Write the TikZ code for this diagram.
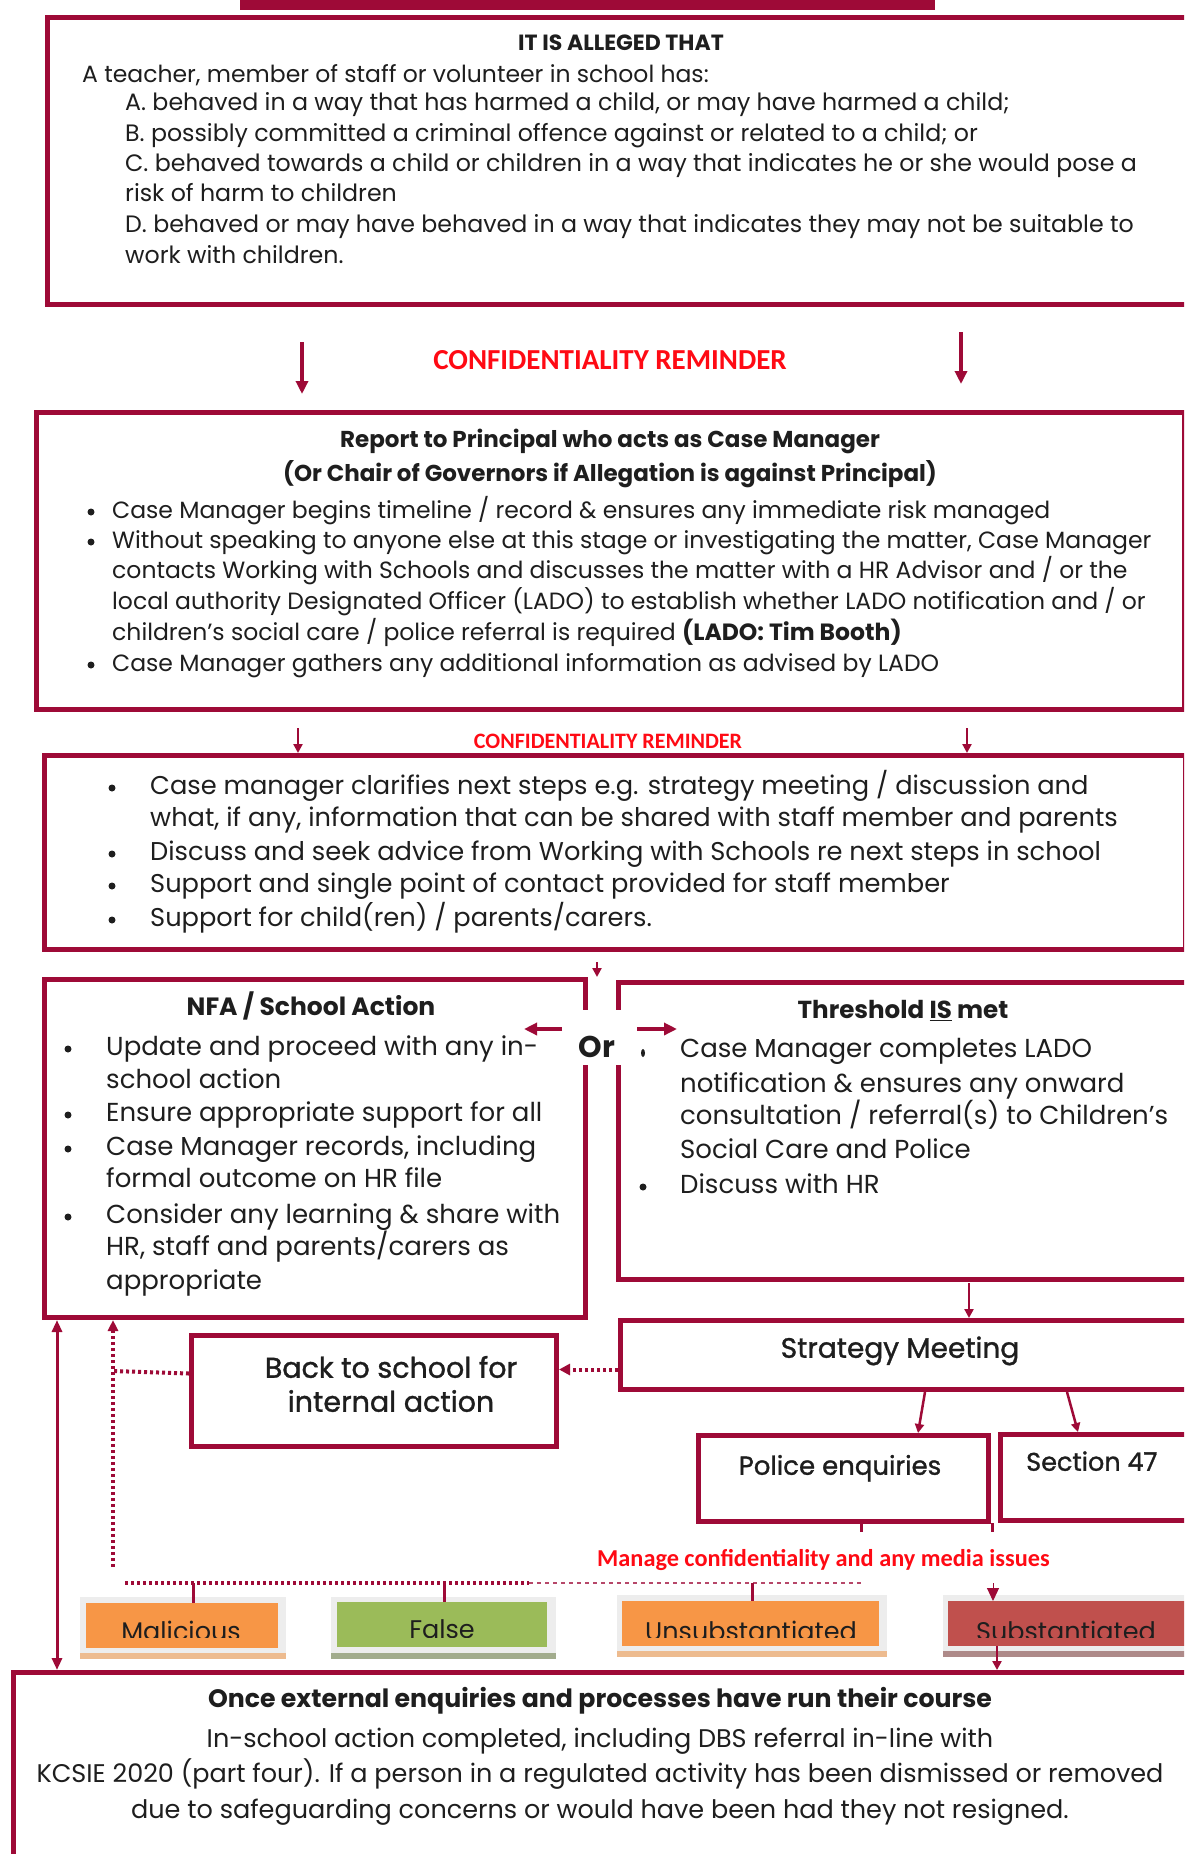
\documentclass[tikz,border=0pt]{standalone}
\usepackage{fontspec}
\setmainfont{Poppins}
\newfontfamily\redf{Carlito}
\newfontfamily\medf{Poppins}[FakeBold=1.2]
\usetikzlibrary{arrows.meta}
\definecolor{mar}{RGB}{158,10,55}
\definecolor{redtxt}{RGB}{255,10,20}
\definecolor{orbox}{RGB}{247,150,70}
\definecolor{grbox}{RGB}{155,187,89}
\definecolor{rdbox}{RGB}{192,80,77}
\definecolor{txt}{RGB}{30,30,30}
\newcommand\fsz[1]{\fontsize{#1}{#1}\selectfont}
\begin{document}
\begin{tikzpicture}[x=1pt,y=-1pt,
  box/.style={draw=mar, line width=5pt, inner sep=0, anchor=north west},
  t/.style={anchor=mid west, inner sep=0, text=txt, yshift=-5pt},
  tc/.style={anchor=mid, inner sep=0, text=txt, yshift=-5pt},
  bul/.style={circle, fill=txt, minimum size=7pt, inner sep=0, yshift=-1pt},
  arr/.style={draw=mar, line width=3.5pt, -{Triangle[length=13pt,width=12pt]}},
  sarr/.style={draw=mar, line width=2.5pt, -{Triangle[length=9pt,width=9pt]}},
  dots/.style={draw=mar, line width=4pt, dash pattern=on 3pt off 3pt},
  ldots/.style={draw=mar!75, line width=2pt, dash pattern=on 4pt off 4pt},
  tick/.style={draw=mar, line width=3pt},
  cbox/.style={inner sep=0, anchor=north west},
  ctext/.style={anchor=base, inner sep=0, text=txt, font=\fsz{25.5}},
  f1/.style={font=\fsz{23.7}},
  f2/.style={font=\fsz{23.5}},
  f3/.style={font=\fsz{25.7}},
  f4/.style={font=\fsz{26}},
  f5/.style={font=\fsz{25.5}},
]
\useasboundingbox (0,0) rectangle (1184,1854);
\clip (0,0) rectangle (1184,1854);
\fill[white] (0,0) rectangle (1184,1854);

% banner
\fill[mar] (240,0) rectangle (935,10);

% ---------- box 1
\node[box, minimum width=1200pt, minimum height=287pt] (b1) at (45,15) {};
\node[tc, font=\bfseries\fsz{22}] (t1h) at (621,43) {IT IS ALLEGED THAT};
\node[t, font=\fsz{23.5}] (t1i) at (82,75) {A teacher, member of staff or volunteer in school has:};
\node[t, f1] (t1a) at (125,103) {A. behaved in a way that has harmed a child, or may have harmed a child;};
\node[t, f1] (t1b) at (125,134) {B. possibly committed a criminal offence against or related to a child; or};
\node[t, f1] (t1c) at (125,164) {C. behaved towards a child or children in a way that indicates he or she would pose a};
\node[t, f1] (t1d) at (125,194) {risk of harm to children};
\node[t, f1] (t1e) at (125,225) {D. behaved or may have behaved in a way that indicates they may not be suitable to};
\node[t, f1] (t1f) at (125,256) {work with children.};

\node[tc, text=redtxt, font=\redf\bfseries\fsz{29}] (cr1) at (610,362) {CONFIDENTIALITY REMINDER};

% ---------- box 2
\node[box, minimum width=1148pt, minimum height=297pt] (b2) at (34,410) {};
\node[tc, font=\bfseries\fsz{23}] (t2h1) at (610,440) {Report to Principal who acts as Case Manager};
\node[tc, font=\bfseries\fsz{23}] (t2h2) at (610,474) {(Or Chair of Governors if Allegation is against Principal)};
\node[bul] (b2a) at (91,511) {};
\node[bul] (b2b) at (91,541) {};
\node[bul] (b2c) at (91,664) {};
\node[t, f2] (t2a) at (112,511) {Case Manager begins timeline / record \& ensures any immediate risk managed};
\node[t, f2] (t2b) at (112,541) {Without speaking to anyone else at this stage or investigating the matter, Case Manager};
\node[t, f2] (t2c) at (112,571) {contacts Working with Schools and discusses the matter with a HR Advisor and / or the};
\node[t, f2] (t2d) at (112,602) {local authority Designated Officer (LADO) to establish whether LADO notification and / or};
\node[t, f2] (t2e) at (112,633) {children's social care / police referral is required \textbf{(LADO: Tim Booth)}};
\node[t, f2] (t2f) at (112,664) {Case Manager gathers any additional information as advised by LADO};

\node[tc, text=redtxt, font=\redf\bfseries\fsz{22}] (cr2) at (608,741) {CONFIDENTIALITY REMINDER};

% ---------- box 3
\node[box, minimum width=1141pt, minimum height=194pt] (b3) at (42,753) {};
\node[bul] (b3a) at (112,787) {};
\node[bul] (b3b) at (112,853) {};
\node[bul] (b3c) at (112,885) {};
\node[bul] (b3d) at (112,919) {};
\node[t, f3] (t3a) at (150,787) {Case manager clarifies next steps e.g. strategy meeting / discussion and};
\node[t, f3] (t3b) at (150,819) {what, if any, information that can be shared with staff member and parents};
\node[t, f3] (t3c) at (150,853) {Discuss and seek advice from Working with Schools re next steps in school};
\node[t, f3] (t3d) at (150,885) {Support and single point of contact provided for staff member};
\node[t, f3] (t3e) at (150,919) {Support for child(ren) / parents/carers.};

% ---------- NFA / Threshold
\node[box, minimum width=541pt, minimum height=338pt] (nfa) at (42,977) {};
\node[box, minimum width=620pt, minimum height=297pt] (thr) at (616,980) {};
\fill[white] (572,1010) rectangle (628,1065);
\node[tc, font=\bfseries\fsz{30}] (or) at (597,1050) {Or};
\fill[txt] (643,1053) ellipse (2pt and 4pt);

\node[tc, font=\bfseries\fsz{25}] (tnh) at (311,1008) {NFA / School Action};
\node[bul] (bn1) at (68,1048) {};
\node[bul] (bn2) at (68,1114) {};
\node[bul] (bn3) at (68,1148) {};
\node[bul] (bn4) at (68,1216) {};
\node[t, f4] (tn1) at (106,1048) {Update and proceed with any in-};
\node[t, f4] (tn2) at (106,1081) {school action};
\node[t, f4] (tn3) at (106,1114) {Ensure appropriate support for all};
\node[t, f4] (tn4) at (106,1148) {Case Manager records, including};
\node[t, f4] (tn5) at (106,1180) {formal outcome on HR file};
\node[t, f4] (tn6) at (106,1216) {Consider any learning \& share with};
\node[t, f4] (tn7) at (106,1248) {HR, staff and parents/carers as};
\node[t, f4] (tn8) at (106,1282) {appropriate};

\node[tc, font=\bfseries\fsz{24.6}] (tth) at (903,1011) {Threshold \underline{IS} met};
\node[bul] (bt2) at (643,1186) {};
\node[t, f4] (tt1) at (680,1050) {Case Manager completes LADO};
\node[t, f4] (tt2) at (680,1085) {notification \& ensures any onward};
\node[t, f4] (tt3) at (680,1117) {consultation / referral(s) to Children's};
\node[t, f4] (tt4) at (680,1151) {Social Care and Police};
\node[t, f4] (tt5) at (680,1186) {Discuss with HR};

% ---------- lower part
\node[box, minimum width=620pt, minimum height=69pt] (strat) at (618,1318) {};
\node[tc, font=\medf\fsz{28}] (tsm) at (900,1350) {Strategy Meeting};
\node[box, minimum width=365pt, minimum height=111pt] (back) at (189,1333) {};
\node[tc, font=\medf\fsz{28.5}] (tb1) at (391,1370) {Back to school for};
\node[tc, font=\medf\fsz{28.5}] (tb2) at (391,1404) {internal action};
\node[box, minimum width=290pt, minimum height=86pt] (pol) at (696,1433) {};
\node[tc, font=\medf\fsz{26}] (tpol) at (840,1467) {Police enquiries};
\node[box, minimum width=250pt, minimum height=86pt] (s47) at (998,1432) {};
\node[t, font=\medf\fsz{25.5}] (ts47) at (1026,1463) {Section 47};

\node[t, text=redtxt, font=\redf\bfseries\fsz{24.3}] (mc) at (597,1559) {Manage confidentiality and any media issues};

% coloured outcome boxes
\fill[black!7] (80,1597) rectangle (286,1659);
\fill[orbox!60!brown!60] (80,1653) rectangle (286,1659);
\node[cbox, fill=orbox, minimum width=192pt, minimum height=45pt] (mal) at (86,1603) {};
\fill[black!7] (331,1597) rectangle (556,1659);
\fill[grbox!40!gray!80] (331,1653) rectangle (556,1659);
\node[cbox, fill=grbox, minimum width=210pt, minimum height=45pt] (fal) at (337,1602) {};
\fill[black!7] (617,1595) rectangle (887,1657);
\fill[orbox!60!brown!60] (617,1651) rectangle (887,1657);
\node[cbox, fill=orbox, minimum width=257pt, minimum height=45pt] (uns) at (622,1601) {};
\fill[black!7] (943,1595) rectangle (1190,1657);
\fill[rdbox!40!gray!80] (943,1651) rectangle (1190,1657);
\node[cbox, fill=rdbox, minimum width=250pt, minimum height=45pt] (sub) at (948,1601) {};
\begin{scope}
\clip (0,1590) rectangle (1184,1637);
\node[ctext] (tmal) at (181,1640) {Malicious};
\node[ctext] (tfal) at (442,1638) {False};
\node[ctext] (tuns) at (751,1640) {Unsubstantiated};
\node[ctext] (tsub) at (1066,1640) {Substantiated};
\end{scope}

% ---------- final box
\node[box, minimum width=1250pt, minimum height=250pt] (fin) at (11,1670) {};
\node[tc, font=\bfseries\fsz{25.2}] (tf1) at (600,1700) {Once external enquiries and processes have run their course};
\node[tc, f5] (tf2) at (600,1740) {In-school action completed, including DBS referral in-line with};
\node[tc, f5] (tf3) at (600,1775) {KCSIE 2020 (part four). If a person in a regulated activity has been dismissed or removed};
\node[tc, f5] (tf4) at (600,1811) {due to safeguarding concerns or would have been had they not resigned.};

% ---------- connectors
\coordinate (a1s) at (302,342); \coordinate (a1e) at (302,394);
\coordinate (a2s) at (961,332); \coordinate (a2e) at (961,384);
\draw[arr] (a1s) -- (a1e);
\draw[arr] (a2s) -- (a2e);
\coordinate (a3s) at (298,728); \coordinate (a4s) at (967,728);
\draw[sarr] (a3s) -- ([xshift=256pt]b3.north west);
\draw[sarr] (a4s) -- ([xshift=925pt]b3.north west);
\coordinate (a5s) at (597,962);
\draw[sarr] (a5s) -- ([xshift=555pt]nfa.north west);
\coordinate (orl) at (562,1029); \coordinate (orle) at (524,1029);
\coordinate (orr) at (637,1029); \coordinate (orre) at (677,1029);
\draw[arr] (orl) -- (orle);
\draw[arr] (orr) -- (orre);
\coordinate (a6s) at (969,1283);
\draw[sarr] (a6s) -- ([xshift=351pt]strat.north west);
\draw[sarr] ([xshift=307pt]strat.south west) -- ([xshift=222pt]pol.north west);
\draw[sarr] ([xshift=449pt]strat.south west) -- ([xshift=80pt]s47.north west);

\draw[dots, -{Triangle[length=11pt,width=11pt]}] ([yshift=-14.5pt]strat.west) -- ([yshift=21.5pt]back.east);
\coordinate (dv) at (113,1371);
\draw[dots] ([yshift=17.5pt]back.west) -- (dv);
\coordinate (dvb) at (113,1567);
\draw[dots, {Triangle[length=11pt,width=10pt]}-] ([xshift=71pt]nfa.south west) -- (dvb);
\draw[draw=mar, line width=3pt, {Triangle[length=12pt,width=10pt]}-{Triangle[length=12pt,width=10pt]}] ([xshift=15pt]nfa.south west) -- ([xshift=46pt]fin.north west);

\draw[tick] ([xshift=165pt]pol.south west) -- ++(0,8);
\coordinate (gp) at (992,1532);
\draw[tick] ([xshift=-6pt]s47.south west) -- (gp);
\coordinate (dl1) at (125,1583); \coordinate (dl2) at (529,1583); \coordinate (dl3) at (861,1583);
\draw[dots] (dl1) -- (dl2);
\draw[ldots] (dl2) -- (dl3);
\draw[tick] (193,1583) -- ([xshift=107pt]mal.north west);
\draw[tick] (444,1583) -- ([xshift=107pt]fal.north west);
\draw[tick] (752,1583) -- ([xshift=130pt]uns.north west);
\coordinate (sa) at (993,1583);
\draw[draw=mar, line width=1pt, -{Triangle[length=13pt,width=12pt]}] (sa) -- ([xshift=45pt]sub.north west);
\draw[sarr] ([xshift=49pt]sub.south west) -- ([xshift=986pt]fin.north west);
\end{tikzpicture}
\end{document}
